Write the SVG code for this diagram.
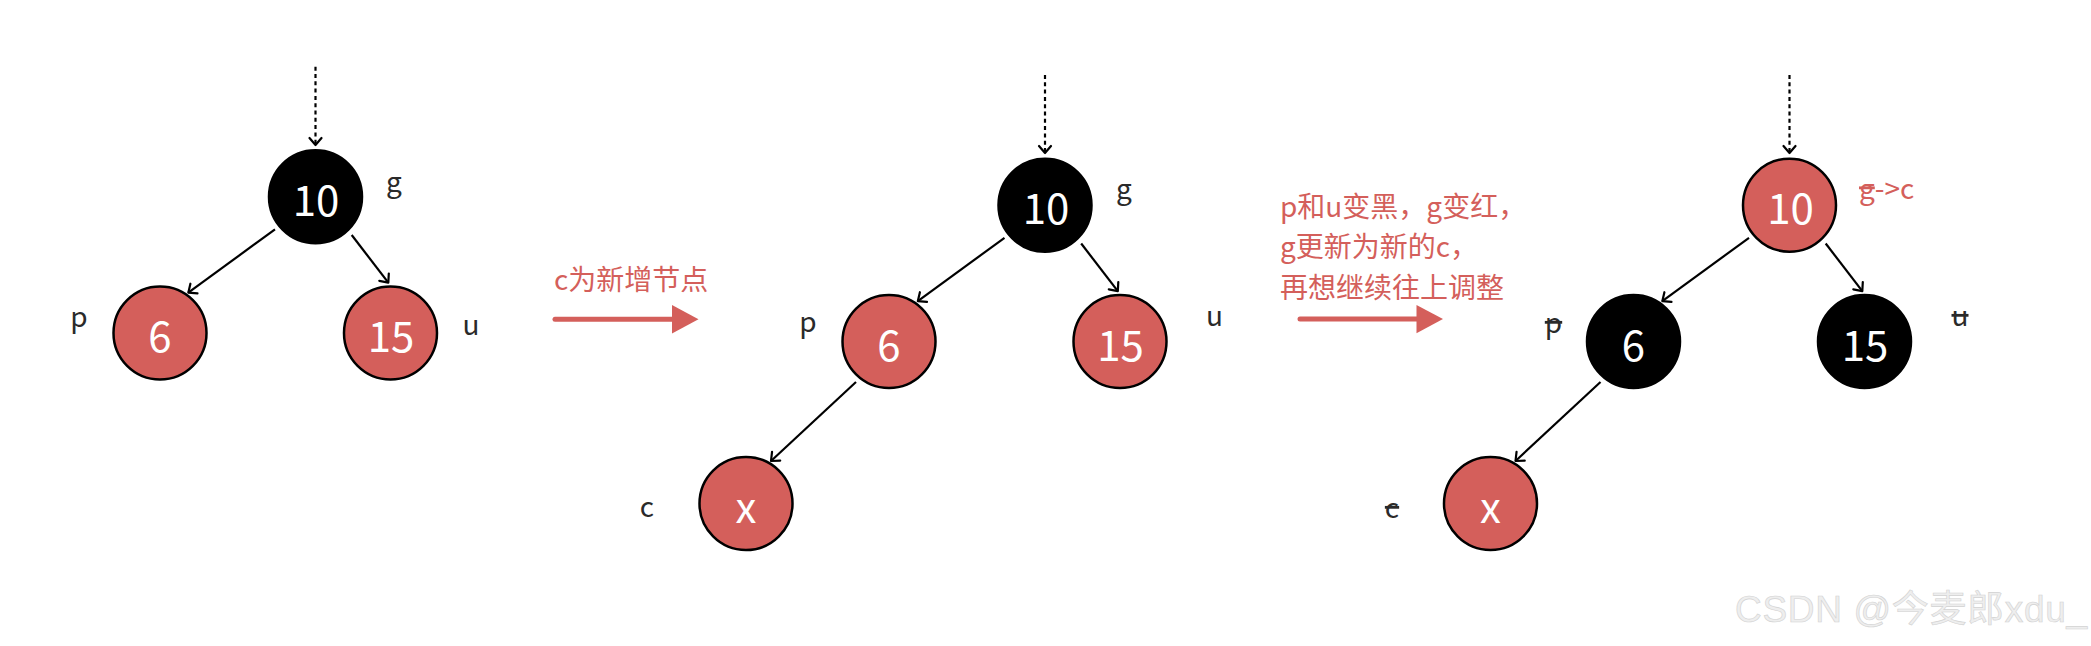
<svg xmlns="http://www.w3.org/2000/svg" width="2091" height="646" viewBox="0 0 2091 646">
  <defs>
    <marker id="open" viewBox="-10 -8 12 16" refX="0" refY="0" markerWidth="12" markerHeight="16" markerUnits="userSpaceOnUse" orient="auto">
      <path d="M-7,-6 L0,0 L-7,6" fill="none" stroke="#000" stroke-width="2.2" stroke-linecap="round" stroke-linejoin="round"/>
    </marker>
    <style>
      .red { fill: #d45f5b; stroke: #000; stroke-width: 2.5; }
      .blk { fill: #000; stroke: #000; stroke-width: 2.5; }
      .num { font-family: "Noto Sans CJK SC", "Noto Sans", sans-serif; font-size: 42px; fill: #fff; text-anchor: middle; }
      .lbl { font-family: "Noto Sans CJK SC", "Noto Sans", sans-serif; font-size: 28px; fill: #2a2a2a; text-anchor: middle; }
      .strike { text-decoration: line-through; }
      .note { font-family: "Noto Sans CJK SC", "Noto Sans", sans-serif; font-size: 28px; fill: #d45f5b; }
      .edge { fill: none; stroke: #000; stroke-width: 2.2; marker-end: url(#open); }
      .dash { fill: none; stroke: #000; stroke-width: 2.2; stroke-dasharray: 4 3.3; marker-end: url(#open); }
      .bigline { fill: none; stroke: #d45f5b; stroke-width: 5; stroke-linecap: round; }
      .bighead { fill: #d45f5b; }
      .wm { font-family: "Liberation Sans", "Noto Sans CJK SC", sans-serif; font-size: 37px; fill: #eeeeee; stroke: #d2d2d2; stroke-width: 0.6; }
    </style>
  </defs>

  <rect x="0" y="0" width="2091" height="646" fill="#fff"/>

  <g id="connectors">
    <!-- tree 1 -->
    <path class="dash" d="M315.5,66.7 L315.5,145"/>
    <path class="edge" d="M275,229.3 L188.3,292.7"/>
    <path class="edge" d="M351.7,235 L388.3,282.7"/>
    <!-- tree 2 -->
    <path class="dash" d="M1045,75 L1045,153"/>
    <path class="edge" d="M1004.5,237.8 L917.8,301.2"/>
    <path class="edge" d="M1081.2,243.5 L1117.8,291.2"/>
    <path class="edge" d="M856,382 L771,461"/>
    <!-- tree 3 -->
    <path class="dash" d="M1789.5,75 L1789.5,153"/>
    <path class="edge" d="M1749,237.8 L1662.3,301.2"/>
    <path class="edge" d="M1825.7,243.5 L1862.3,291.2"/>
    <path class="edge" d="M1600.5,382 L1515.5,461"/>
    <!-- transition arrows -->
    <path class="bigline" d="M555,319.3 L674,319.3"/>
    <polygon class="bighead" points="672,305 698.5,319.3 672,333.5"/>
    <path class="bigline" d="M1300,319 L1418,319"/>
    <polygon class="bighead" points="1416.5,305 1443,319 1416.5,333.3"/>
  </g>

  <!-- tree 1 -->
  <g id="t1-g">
    <circle class="blk" cx="315.5" cy="196.7" r="46.5"/>
    <text class="num" x="316" y="216">10</text>
    <text class="lbl" x="394" y="192">g</text>
  </g>
  <g id="t1-p">
    <circle class="red" cx="160" cy="333" r="46.5"/>
    <text class="num" x="160" y="352">6</text>
    <text class="lbl" x="79" y="327">p</text>
  </g>
  <g id="t1-u">
    <circle class="red" cx="390.5" cy="333" r="46.5"/>
    <text class="num" x="391" y="352">15</text>
    <text class="lbl" x="471" y="335">u</text>
  </g>

  <g id="label-1">
    <text class="note" x="554" y="289.5">c为新增节点</text>
  </g>

  <!-- tree 2 -->
  <g id="t2-g">
    <circle class="blk" cx="1045" cy="205.2" r="46.5"/>
    <text class="num" x="1046" y="223.5">10</text>
    <text class="lbl" x="1124" y="198.5">g</text>
  </g>
  <g id="t2-p">
    <circle class="red" cx="889" cy="341.5" r="46.5"/>
    <text class="num" x="889" y="360.5">6</text>
    <text class="lbl" x="808" y="332">p</text>
  </g>
  <g id="t2-u">
    <circle class="red" cx="1120" cy="341.5" r="46.5"/>
    <text class="num" x="1120.5" y="360.5">15</text>
    <text class="lbl" x="1214.5" y="325.5">u</text>
  </g>
  <g id="t2-c">
    <circle class="red" cx="746" cy="503.5" r="46.5"/>
    <text class="num" x="746" y="523">x</text>
    <text class="lbl" x="647" y="517">c</text>
  </g>

  <g id="label-2">
    <text class="note" x="1280" y="216.5">p和u变黑，g变红，</text>
    <text class="note" x="1280" y="257">g更新为新的c，</text>
    <text class="note" x="1280" y="297.5">再想继续往上调整</text>
  </g>

  <!-- tree 3 -->
  <g id="t3-g">
    <circle class="red" cx="1789.5" cy="205.2" r="46.5"/>
    <text class="num" x="1790.5" y="223.5">10</text>
    <text class="note" x="1859" y="198.5"><tspan class="strike">g</tspan>-&gt;c</text>
  </g>
  <g id="t3-p">
    <circle class="blk" cx="1633.5" cy="341.5" r="46.5"/>
    <text class="num" x="1633.5" y="360.5">6</text>
    <text class="lbl strike" x="1553.5" y="333">p</text>
  </g>
  <g id="t3-u">
    <circle class="blk" cx="1864.5" cy="341.5" r="46.5"/>
    <text class="num" x="1865" y="360.5">15</text>
    <text class="lbl strike" x="1960" y="326">u</text>
  </g>
  <g id="t3-c">
    <circle class="red" cx="1490.5" cy="503.5" r="46.5"/>
    <text class="num" x="1490.5" y="523">x</text>
    <text class="lbl strike" x="1392" y="518">c</text>
  </g>

  <g id="watermark">
    <text class="wm" x="1735" y="622" textLength="352" lengthAdjust="spacing">CSDN @今麦郎xdu_</text>
  </g>
</svg>
